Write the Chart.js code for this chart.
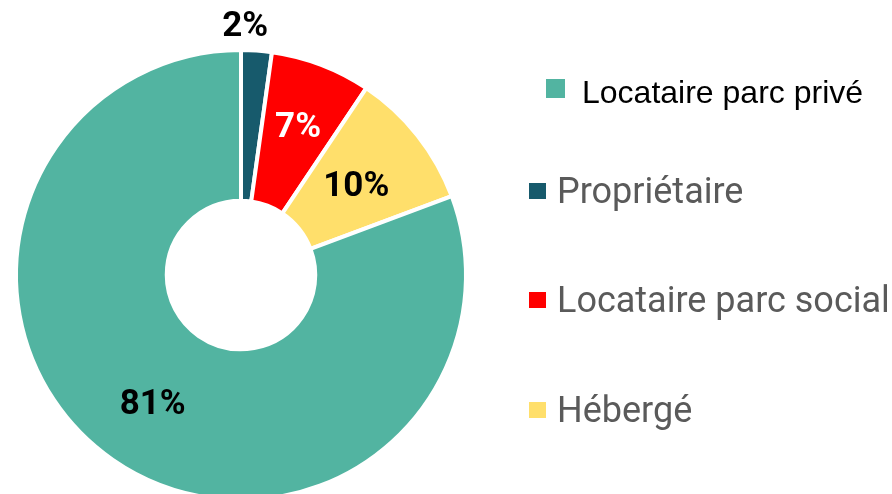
<!DOCTYPE html>
<html>
<head>
<meta charset="utf-8">
<script src="https://cdn.jsdelivr.net/npm/chart.js@4/dist/chart.umd.min.js"></script>
<style>
  html, body { margin: 0; padding: 0; background: #ffffff; overflow: hidden; }
  #wrap { position: absolute; left: 0; top: 0; width: 892px; height: 560px; }
</style>
</head>
<body>
<div id="wrap"><canvas id="c"></canvas></div>
<script>
// Data (clockwise from top)
const categories = ['Propriétaire', 'Locataire parc social', 'Hébergé', 'Locataire parc privé'];
const values = [2.2, 7.2, 9.9, 80.7];
const valueLabels = ['2%', '7%', '10%', '81%'];
const colors = ['#175A6C', '#FF0000', '#FFDF6B', '#52B4A1'];
const labelColors = ['#000000', '#FFFFFF', '#000000', '#000000'];
const labelRadius = [251, 160, 147, 155];
const labelAngleShift = [-3, 0, 0, 0];
// Legend order
const legendOrder = ['Locataire parc privé', 'Propriétaire', 'Locataire parc social', 'Hébergé'];

const labelPlugin = {
  id: 'sliceLabels',
  afterDatasetsDraw(chart) {
    const ctx = chart.ctx;
    const meta = chart.getDatasetMeta(0);
    ctx.save();
    ctx.font = 'bold 35px Roboto';
    ctx.textAlign = 'center';
    ctx.textBaseline = 'middle';
    meta.data.forEach((arc, i) => {
      const p = arc.getProps(['x', 'y', 'startAngle', 'endAngle'], true);
      const mid = (p.startAngle + p.endAngle) / 2 + labelAngleShift[i] * Math.PI / 180;
      const r = labelRadius[i];
      ctx.fillStyle = labelColors[i];
      ctx.fillText(valueLabels[i], p.x + Math.cos(mid) * r, p.y + Math.sin(mid) * r + 3);
    });
    ctx.restore();
  }
};

const legendPlugin = {
  id: 'sideLegend',
  afterDraw(chart) {
    const ctx = chart.ctx;
    ctx.save();
    ctx.textAlign = 'left';
    ctx.textBaseline = 'alphabetic';
    const baselines = [103, 203, 312, 422];
    legendOrder.forEach((name, k) => {
      const idx = categories.indexOf(name);
      ctx.fillStyle = colors[idx];
      if (k === 0) {
        ctx.fillRect(546, 79, 19, 19);
        ctx.fillStyle = '#000000';
        ctx.font = '32px "Liberation Sans", Arial';
        ctx.fillText(name, 582, baselines[k]);
      } else {
        const base = baselines[k];
        ctx.fillRect(529, base - 20, 17, 16);
        ctx.fillStyle = '#5A5A5A';
        ctx.font = '36px Roboto';
        ctx.fillText(name, 557, base);
      }
    });
    ctx.restore();
  }
};

new Chart(document.getElementById('c'), {
  type: 'doughnut',
  data: {
    labels: categories,
    datasets: [{
      data: values,
      backgroundColor: colors,
      borderColor: '#FFFFFF',
      borderWidth: 4,
      hoverOffset: 0
    }]
  },
  options: {
    responsive: true,
    maintainAspectRatio: false,
    animation: false,
    cutout: '33%',
    layout: { padding: { left: 14, top: 48, right: 424, bottom: 58 } },
    plugins: {
      legend: { display: false },
      tooltip: { enabled: false }
    }
  },
  plugins: [labelPlugin, legendPlugin]
});
</script>
</body>
</html>
